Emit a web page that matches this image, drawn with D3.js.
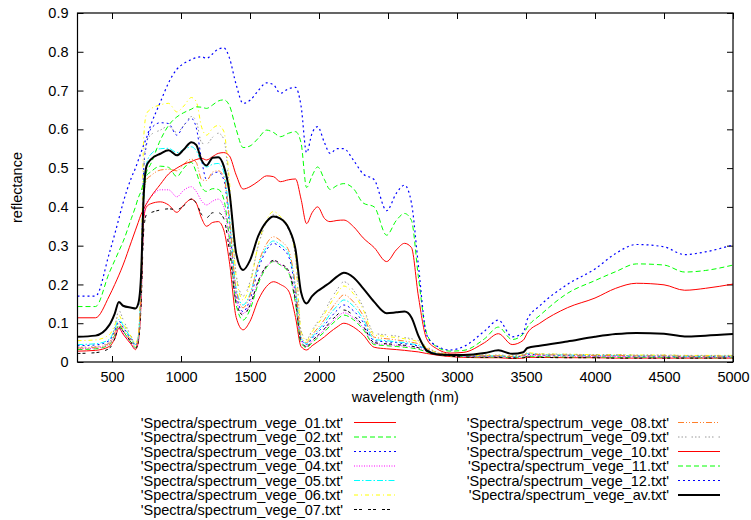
<!DOCTYPE html>
<html>
<head>
<meta charset="utf-8">
<script src="https://cdn.jsdelivr.net/npm/d3@7"></script>
<style>
  body { margin: 0; background: #fff; }
  text { font-family: "Liberation Sans", Arial, Helvetica, sans-serif; font-size: 14.5px; fill: #000; }
</style>
</head>
<body>
<svg id="chart" width="751" height="520"></svg>
<script>
// wavelength grid (nm) shared by all spectra
const wavelength = [250,380,480,520,550,580,640,670,690,710,730,750,780,850,910,970,1020,1075,1110,1150,1185,1230,1270,1310,1350,1400,1450,1500,1560,1620,1670,1720,1780,1830,1870,1910,1950,1990,2040,2080,2130,2180,2250,2320,2400,2490,2560,2620,2670,2720,2780,2850,2950,3050,3200,3300,3400,3480,3510,3600,3800,4000,4150,4300,4500,4650,4800,5000]

// reflectance, one array per file
const vege01 = [0.028,0.030,0.040,0.060,0.087,0.072,0.045,0.032,0.050,0.150, 0.370,0.400,0.408,0.413,0.405,0.386,0.405,0.420,0.410,0.370, 0.350,0.360,0.362,0.340,0.260,0.115,0.083,0.105,0.160,0.195, 0.207,0.200,0.183,0.115,0.040,0.031,0.042,0.052,0.065,0.077, 0.090,0.100,0.090,0.070,0.038,0.034,0.032,0.030,0.028,0.026, 0.022,0.018,0.014,0.012,0.011,0.011,0.009,0.010,0.012,0.012, 0.011,0.011,0.010,0.010,0.010,0.010,0.010,0.010]
const vege02 = [0.032,0.034,0.044,0.070,0.095,0.080,0.050,0.037,0.055,0.170, 0.420,0.480,0.490,0.505,0.502,0.478,0.500,0.515,0.490,0.450, 0.440,0.447,0.445,0.420,0.320,0.147,0.108,0.135,0.202,0.244, 0.259,0.250,0.230,0.150,0.050,0.037,0.050,0.062,0.078,0.093, 0.109,0.121,0.109,0.084,0.045,0.042,0.040,0.038,0.036,0.033, 0.026,0.020,0.016,0.014,0.013,0.013,0.011,0.012,0.015,0.014, 0.013,0.013,0.012,0.012,0.012,0.011,0.011,0.011]
const vege03 = [0.042,0.044,0.055,0.080,0.105,0.090,0.058,0.043,0.060,0.200, 0.500,0.560,0.600,0.617,0.615,0.585,0.610,0.628,0.605,0.520, 0.470,0.485,0.490,0.470,0.360,0.175,0.130,0.161,0.239,0.289, 0.306,0.296,0.272,0.180,0.060,0.045,0.061,0.076,0.095,0.113, 0.133,0.147,0.132,0.103,0.055,0.052,0.050,0.047,0.045,0.041, 0.031,0.022,0.018,0.016,0.015,0.015,0.013,0.016,0.020,0.018, 0.017,0.016,0.016,0.015,0.015,0.014,0.014,0.014]
const vege04 = [0.034,0.036,0.046,0.068,0.090,0.075,0.048,0.035,0.052,0.150, 0.370,0.410,0.425,0.444,0.444,0.426,0.443,0.452,0.440,0.415, 0.405,0.415,0.420,0.400,0.310,0.160,0.125,0.149,0.209,0.247, 0.260,0.252,0.234,0.160,0.055,0.040,0.054,0.066,0.083,0.098, 0.115,0.127,0.114,0.089,0.048,0.045,0.043,0.041,0.039,0.036, 0.028,0.021,0.017,0.015,0.014,0.014,0.012,0.014,0.017,0.016, 0.015,0.014,0.014,0.013,0.013,0.012,0.012,0.012]
const vege05 = [0.045,0.047,0.058,0.085,0.110,0.095,0.060,0.045,0.062,0.190, 0.460,0.510,0.535,0.550,0.551,0.540,0.548,0.555,0.545,0.515, 0.503,0.510,0.512,0.490,0.380,0.190,0.147,0.176,0.250,0.296, 0.312,0.303,0.280,0.190,0.062,0.047,0.065,0.081,0.102,0.123, 0.144,0.160,0.144,0.111,0.058,0.055,0.052,0.050,0.047,0.043, 0.032,0.022,0.018,0.016,0.016,0.016,0.014,0.017,0.022,0.019, 0.018,0.017,0.017,0.016,0.016,0.015,0.015,0.015]
const vege06 = [0.055,0.057,0.070,0.095,0.120,0.100,0.065,0.048,0.070,0.220, 0.580,0.640,0.652,0.663,0.667,0.645,0.660,0.682,0.672,0.605, 0.585,0.603,0.610,0.595,0.470,0.220,0.160,0.200,0.302,0.366, 0.388,0.375,0.345,0.270,0.080,0.055,0.078,0.097,0.124,0.149, 0.176,0.196,0.176,0.135,0.070,0.066,0.063,0.060,0.057,0.052, 0.038,0.025,0.020,0.018,0.017,0.017,0.015,0.019,0.024,0.021, 0.020,0.019,0.019,0.018,0.018,0.017,0.017,0.017]
const vege07 = [0.022,0.024,0.035,0.060,0.090,0.080,0.050,0.035,0.050,0.140, 0.340,0.380,0.385,0.392,0.395,0.393,0.403,0.420,0.410,0.380, 0.372,0.385,0.385,0.370,0.290,0.153,0.121,0.146,0.209,0.248, 0.262,0.254,0.235,0.158,0.052,0.040,0.055,0.068,0.086,0.103, 0.121,0.134,0.120,0.093,0.050,0.047,0.045,0.043,0.041,0.037, 0.028,0.020,0.015,0.013,0.012,0.012,0.010,0.011,0.013,0.012, 0.011,0.011,0.010,0.010,0.010,0.010,0.010,0.010]
const vege08 = [0.036,0.038,0.048,0.075,0.100,0.085,0.055,0.040,0.058,0.180, 0.430,0.470,0.480,0.495,0.497,0.493,0.510,0.523,0.515,0.470, 0.468,0.490,0.493,0.478,0.370,0.185,0.140,0.172,0.254,0.305, 0.323,0.313,0.288,0.195,0.065,0.050,0.070,0.087,0.110,0.132, 0.156,0.173,0.155,0.120,0.064,0.060,0.057,0.054,0.051,0.047, 0.035,0.024,0.019,0.017,0.016,0.016,0.014,0.017,0.021,0.019, 0.018,0.017,0.017,0.016,0.016,0.015,0.015,0.015]
const vege09 = [0.038,0.040,0.050,0.090,0.133,0.110,0.065,0.045,0.065,0.200, 0.500,0.570,0.585,0.598,0.608,0.592,0.610,0.633,0.622,0.565, 0.562,0.580,0.590,0.575,0.450,0.225,0.170,0.207,0.300,0.360, 0.380,0.368,0.340,0.270,0.080,0.058,0.082,0.103,0.131,0.158, 0.186,0.207,0.185,0.142,0.074,0.070,0.067,0.063,0.060,0.055, 0.040,0.026,0.021,0.019,0.018,0.018,0.016,0.019,0.023,0.021, 0.020,0.019,0.019,0.018,0.018,0.017,0.017,0.017]
const vege10 = [0.114,0.114,0.170,0.200,0.224,0.250,0.310,0.340,0.360,0.380, 0.395,0.408,0.425,0.458,0.485,0.500,0.510,0.517,0.522,0.525, 0.521,0.530,0.538,0.540,0.532,0.482,0.446,0.452,0.466,0.480, 0.478,0.465,0.470,0.472,0.420,0.357,0.385,0.400,0.370,0.362, 0.365,0.366,0.349,0.320,0.295,0.259,0.289,0.306,0.295,0.170, 0.060,0.035,0.023,0.025,0.050,0.073,0.045,0.056,0.075,0.100, 0.140,0.165,0.190,0.203,0.199,0.185,0.190,0.201]
const vege11 = [0.143,0.143,0.230,0.262,0.286,0.310,0.370,0.400,0.423,0.440, 0.465,0.490,0.510,0.572,0.610,0.632,0.643,0.652,0.658,0.657, 0.654,0.663,0.673,0.676,0.662,0.600,0.553,0.557,0.577,0.598, 0.592,0.581,0.590,0.594,0.565,0.450,0.480,0.503,0.470,0.445, 0.455,0.460,0.447,0.410,0.400,0.327,0.365,0.383,0.365,0.220, 0.074,0.040,0.028,0.030,0.060,0.090,0.058,0.072,0.090,0.120, 0.177,0.210,0.233,0.253,0.250,0.232,0.236,0.250]
const vege12 = [0.170,0.170,0.280,0.330,0.370,0.410,0.475,0.500,0.520,0.540, 0.560,0.578,0.610,0.670,0.720,0.755,0.770,0.780,0.785,0.787, 0.783,0.795,0.807,0.810,0.785,0.715,0.667,0.675,0.700,0.720, 0.715,0.693,0.705,0.708,0.660,0.540,0.590,0.607,0.565,0.538, 0.550,0.550,0.520,0.485,0.470,0.390,0.435,0.456,0.410,0.250, 0.070,0.042,0.031,0.040,0.080,0.108,0.065,0.075,0.110,0.145, 0.200,0.240,0.280,0.303,0.297,0.277,0.284,0.302]
const vegeAv = [0.065,0.068,0.095,0.125,0.155,0.145,0.140,0.138,0.150,0.220, 0.430,0.505,0.522,0.537,0.546,0.533,0.548,0.567,0.560,0.520, 0.507,0.527,0.528,0.505,0.440,0.280,0.237,0.262,0.325,0.362, 0.375,0.370,0.345,0.290,0.180,0.151,0.170,0.183,0.195,0.205, 0.220,0.230,0.218,0.190,0.155,0.126,0.128,0.130,0.115,0.068, 0.030,0.020,0.018,0.018,0.023,0.030,0.021,0.025,0.036,0.042, 0.053,0.065,0.072,0.075,0.073,0.066,0.068,0.072]

const fileIds = ["01","02","03","04","05","06","07","08","09","10","11","12","av"]
const seriesValues = [vege01,vege02,vege03,vege04,vege05,vege06,vege07,vege08,vege09,vege10,vege11,vege12,vegeAv]

const xTicks = [500,1000,1500,2000,2500,3000,3500,4000,4500,5000]
const yTicks = [0,0.1,0.2,0.3,0.4,0.5,0.6,0.7,0.8,0.9]

// line styles, gnuplot-like
const lineStyles = [
    {color: "#ff0000", dash: null,              width: 1},
    {color: "#00ff00", dash: "5,3",             width: 1},
    {color: "#0000ff", dash: "2,3",             width: 1},
    {color: "#ff00ff", dash: "1,1.5",           width: 1},
    {color: "#00ffff", dash: "6,2,1.5,2",       width: 1},
    {color: "#ffff00", dash: "4,3,1,3",         width: 1},
    {color: "#000000", dash: "3,2,3,6",         width: 1},
    {color: "#ff7f2a", dash: "6,2,1,2,1,2",     width: 1},
    {color: "#999999", dash: "1.5,2,1.5,2,1.5,5", width: 1},
    {color: "#ff0000", dash: null,              width: 1},
    {color: "#00ff00", dash: "5,3",             width: 1},
    {color: "#0000ff", dash: "2,3",             width: 1.2},
    {color: "#000000", dash: null,              width: 2}
]

const series = fileIds.map((id, i) => ({
    label: `'Spectra/spectrum_vege_${id}.txt'`,
    values: seriesValues[i],
    style: lineStyles[i]
}))

const plotLeft = 77.5, plotRight = 733, plotTop = 13, plotBottom = 362

const x = d3.scaleLinear().domain([250, 5000]).range([plotLeft, plotRight])
const y = d3.scaleLinear().domain([0, 0.9]).range([plotBottom, plotTop])

const svg = d3.select("#chart")

svg.append("defs").append("clipPath")
    .attr("id", "plotclip")
    .append("rect")
    .attr("x", plotLeft).attr("y", plotTop)
    .attr("width", plotRight - plotLeft).attr("height", plotBottom - plotTop)

// axes, ticks pointing inwards and mirrored
const fmtY = d => d === 0 ? "0" : d3.format(".1f")(d)
const fmtX = d3.format("d")

svg.append("g")
    .attr("transform", `translate(0,${plotBottom})`)
    .call(d3.axisBottom(x).tickValues(xTicks).tickSize(-6).tickPadding(10).tickFormat(fmtX))
    .call(g => g.select(".domain").remove())

svg.append("g")
    .attr("transform", `translate(0,${plotTop})`)
    .call(d3.axisTop(x).tickValues(xTicks).tickSize(-6).tickFormat(""))
    .call(g => g.select(".domain").remove())

svg.append("g")
    .attr("transform", `translate(${plotLeft},0)`)
    .call(d3.axisLeft(y).tickValues(yTicks).tickSize(-6).tickPadding(9).tickFormat(fmtY))
    .call(g => g.select(".domain").remove())

svg.append("g")
    .attr("transform", `translate(${plotRight},0)`)
    .call(d3.axisRight(y).tickValues(yTicks).tickSize(-6).tickFormat(""))
    .call(g => g.select(".domain").remove())

svg.selectAll(".tick line").attr("stroke", "#000").attr("stroke-width", 1)
svg.selectAll(".tick text")
    .style("font-family", '"Liberation Sans", Arial, sans-serif')
    .style("font-size", "14.5px")
    .attr("fill", "#000")

// spectra
const line = d3.line()
    .x((d, i) => x(wavelength[i]))
    .y(d => y(d))
    .curve(d3.curveMonotoneX)

svg.append("g")
    .attr("clip-path", "url(#plotclip)")
    .selectAll("path")
    .data(series)
    .join("path")
    .attr("fill", "none")
    .attr("stroke", d => d.style.color)
    .attr("stroke-width", d => d.style.width)
    .attr("stroke-dasharray", d => d.style.dash)
    .attr("stroke-linejoin", "round")
    .attr("d", d => line(d.values))

// frame
svg.append("rect")
    .attr("x", plotLeft).attr("y", plotTop)
    .attr("width", plotRight - plotLeft).attr("height", plotBottom - plotTop)
    .attr("fill", "none")
    .attr("stroke", "#000")
    .attr("stroke-width", 1.2)

// axis titles
svg.append("text")
    .attr("text-anchor", "middle")
    .attr("transform", `translate(22,${(plotTop + plotBottom) / 2}) rotate(-90)`)
    .text("reflectance")

svg.append("text")
    .attr("text-anchor", "middle")
    .attr("x", (plotLeft + plotRight) / 2)
    .attr("y", 402)
    .text("wavelength (nm)")

// legend: two columns
const legendCols = [
    {textX: 343, x0: 354, x1: 396, items: series.slice(0, 7)},
    {textX: 669, x0: 678, x1: 720, items: series.slice(7)}
]
const rowY0 = 422.5, rowStep = 14.5

legendCols.forEach(col => {
    const g = svg.append("g")
    const rows = g.selectAll("g")
        .data(col.items)
        .join("g")
        .attr("transform", (d, i) => `translate(0,${rowY0 + i * rowStep})`)
    rows.append("text")
        .attr("x", col.textX)
        .attr("dy", "0.35em")
        .attr("text-anchor", "end")
        .text(d => d.label)
    rows.append("line")
        .attr("x1", col.x0).attr("x2", col.x1)
        .attr("y1", 0).attr("y2", 0)
        .attr("stroke", d => d.style.color)
        .attr("stroke-width", d => d.style.width)
        .attr("stroke-dasharray", d => d.style.dash)
})
</script>
</body>
</html>
